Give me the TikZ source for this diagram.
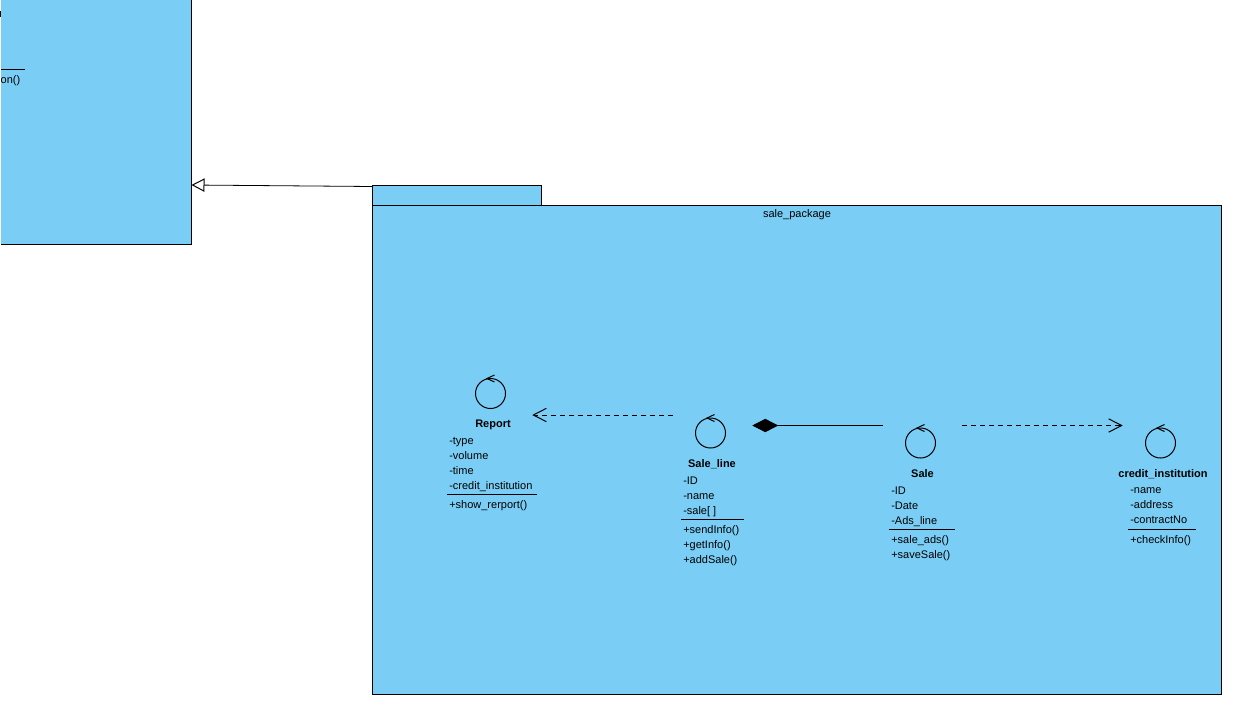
\documentclass[tikz,border=0pt]{standalone}
\usepackage{fontspec}
\setmainfont{Liberation Sans}
\usetikzlibrary{arrows.meta}
\definecolor{pkgblue}{RGB}{122,206,245}
\tikzset{
	line/.style={line width=0.75pt},
	box/.style={draw,line width=0.75pt,fill=pkgblue},
	classname/.style={font=\fontsize{8.25}{11}\selectfont\bfseries,inner sep=0pt,anchor=base},
	members/.style={font=\fontsize{8.25}{11.25}\selectfont,align=left,anchor=north west,inner sep=0pt,execute at begin node=\rule{0pt}{8.25pt}},
	controlicon/.style={circle,draw,line width=0.75pt,minimum size=22.5pt,inner sep=0pt},
	frame/.style={inner sep=0pt,minimum height=30pt},
	depend/.style={line width=0.6pt,dash pattern=on 3.75pt off 3pt,-{Straight Barb[length=9.75pt,width=10pt,line width=0.75pt]}},
	compose/.style={line width=0.75pt,-{Diamond[length=19.5pt,width=10pt]}},
	inherit/.style={line width=0.6pt,-{Triangle[open,length=9.75pt,width=10pt,fill=white,line width=0.75pt]}}
}
\begin{document}
\begin{tikzpicture}[x=0.75pt,y=-0.75pt]
	\useasboundingbox (0,0) rectangle (1242,711);
	\fill[white] (0,0) rectangle (1242,711);
	% left package, cut off by the page
	\fill[pkgblue] (1,-5) rectangle (191.5,244.5);
	\draw[line] (191.5,-5) -- (191.5,244.5) -- (1,244.5);
	\draw[line] (1,69.5) -- (25,69.5);
	\draw[line width=1.2pt] (0.5,11) -- (0.5,17);
	\node[members,anchor=north east] (oper) at (20.5,72) {on()};
	% sale package
	\path[box] (372.5,185.5) rectangle (541.5,205.5);
	\path[box] (372.5,205.5) rectangle (1221.5,694.5);
	\node[classname,font=\fontsize{8.25}{11}\selectfont] (pkgname) at (797,217) {sale\_package};
	\coordinate (pkgport) at (372.5,186.5);
	\coordinate (leftport) at (191.5,185);
	% icons
	\foreach \name/\x/\y in {reporticon/490.5/393.5,lineicon/710.5/433,saleicon/920.5/443,crediticon/1160.5/443}{
		\node[controlicon] (\name) at (\x,\y) {};
		\draw[line] (\x+4,\y-18.5) -- (\x-3.5,\y-15) -- (\x+4,\y-11.5);
	}
	% class names
	\node[classname] (report) at (493,427) {Report};
	\node[classname] (saleline) at (712,467) {Sale\_line};
	\node[classname] (sale) at (922.5,477) {Sale};
	\node[classname] (credit) at (1163,477) {credit\_institution};
	% members
	\node[members] (reportattr) at (449,437) {-type\\-volume\\-time\\-credit\_institution};
	\draw[line] (447,494.5) -- (537,494.5);
	\node[members] (reportoper) at (449,497) {+show\_rerport()};
	\node[members] (lineattr) at (683,477) {-ID\\-name\\-sale[ ]};
	\draw[line] (681,519.5) -- (744,519.5);
	\node[members] (lineoper) at (683,525) {+sendInfo()\\+getInfo()\\+addSale()};
	\node[members] (saleattr) at (891,487) {-ID\\-Date\\-Ads\_line};
	\draw[line] (889,529.5) -- (955,529.5);
	\node[members] (saleoper) at (891,535) {+sale\_ads()\\+saveSale()};
	\node[members] (creditattr) at (1130,487) {-name\\-address\\-contractNo};
	\draw[line] (1128,529.5) -- (1196,529.5);
	\node[members] (creditoper) at (1130,532) {+checkInfo()};
	% class frames for the connectors
	\node[frame,minimum width=62.25pt] (reportframe) at (490.5,415) {};
	\node[frame,minimum width=59.25pt] (lineframe) at (712.5,415) {};
	\node[frame,minimum width=59.25pt] (lineframeb) at (712.5,425.5) {};
	\node[frame,minimum width=59.25pt] (saleframe) at (922.5,425.5) {};
	\node[frame,minimum width=61.5pt] (creditframe) at (1164,425.5) {};
	% connectors
	\draw[inherit] (pkgport) -- (leftport);
	\draw[depend] (lineframe.west) -- (reportframe.east);
	\draw[compose] (saleframe.west) -- (lineframeb.east);
	\draw[depend] (saleframe.east) -- (creditframe.west);
\end{tikzpicture}
\end{document}
